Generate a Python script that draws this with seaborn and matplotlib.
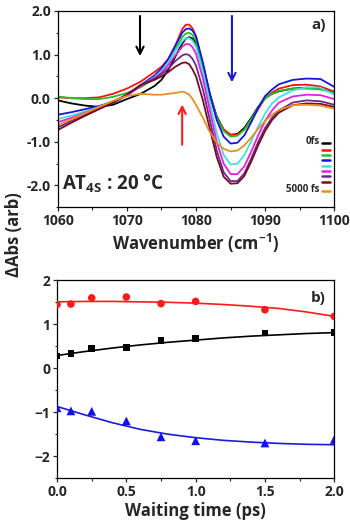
import matplotlib
matplotlib.use('Agg')
import matplotlib.pyplot as plt
import seaborn as sns
import pandas as pd
from matplotlib.ticker import MultipleLocator, FormatStrFormatter

# ---- panel a) : transient spectra ----
wavenumber = [1060, 1062, 1064, 1066, 1068, 1070, 1072, 1074, 1075, 1076, 1077, 1078, 1078.5, 1079, 1079.5, 1080,
              1081, 1082, 1083, 1084, 1085, 1086, 1087, 1088, 1089, 1090, 1091, 1092, 1094, 1096, 1098, 1100]

delays = ['0 fs', '100 fs', '250 fs', '500 fs', '750 fs', '1000 fs', '1500 fs', '2000 fs', '5000 fs']
legend_labels = ['0fs', '', '', '', '', '', '', '', '5000 fs']
spec_colors = ['#000000', '#ff1010', '#22c222', '#1515e0', '#3fe0e8', '#e81ee0', '#6a2a8a', '#7a0a1e', '#e8901e']

spec_0 = [-0.05, -0.12, -0.17, -0.20, -0.15, -0.02, 0.10, 0.28, 0.42, 0.65, 0.95, 1.25, 1.36, 1.40, 1.37, 1.26,
          0.75, 0.10, -0.42, -0.72, -0.84, -0.82, -0.68, -0.45, -0.20, 0.00, 0.10, 0.16, 0.22, 0.24, 0.22, 0.15]
spec_100 = [0.02, 0.00, 0.00, 0.02, 0.10, 0.22, 0.38, 0.60, 0.72, 0.90, 1.20, 1.58, 1.68, 1.69, 1.60, 1.42,
            0.75, 0.05, -0.45, -0.72, -0.84, -0.84, -0.72, -0.50, -0.25, 0.00, 0.13, 0.22, 0.30, 0.31, 0.27, 0.15]
spec_250 = [0.04, 0.00, -0.02, -0.02, 0.03, 0.12, 0.25, 0.45, 0.60, 0.82, 1.10, 1.40, 1.48, 1.50, 1.45, 1.32,
            0.75, 0.08, -0.45, -0.75, -0.88, -0.86, -0.72, -0.48, -0.22, 0.00, 0.10, 0.17, 0.22, 0.22, 0.20, 0.12]
spec_500 = [-0.38, -0.32, -0.25, -0.18, -0.08, 0.08, 0.30, 0.52, 0.68, 0.90, 1.20, 1.50, 1.58, 1.60, 1.55, 1.42,
            0.82, 0.10, -0.50, -0.88, -1.04, -1.02, -0.85, -0.55, -0.22, 0.05, 0.20, 0.32, 0.42, 0.45, 0.44, 0.26]
spec_750 = [-0.48, -0.40, -0.30, -0.20, -0.10, 0.06, 0.28, 0.48, 0.62, 0.82, 1.08, 1.30, 1.37, 1.38, 1.32, 1.18,
            0.60, -0.10, -0.80, -1.30, -1.52, -1.50, -1.30, -0.98, -0.65, -0.35, -0.12, 0.02, 0.18, 0.25, 0.24, 0.08]
spec_1000 = [-0.55, -0.45, -0.33, -0.22, -0.10, 0.06, 0.28, 0.46, 0.58, 0.76, 0.98, 1.18, 1.24, 1.24, 1.17, 1.02,
             0.45, -0.28, -1.00, -1.50, -1.74, -1.74, -1.56, -1.22, -0.85, -0.52, -0.28, -0.10, 0.04, 0.08, 0.07, -0.02]
spec_1500 = [-0.67, -0.52, -0.38, -0.24, -0.10, 0.08, 0.30, 0.45, 0.55, 0.68, 0.85, 0.98, 1.01, 0.99, 0.90, 0.75,
             0.20, -0.50, -1.20, -1.70, -1.90, -1.90, -1.72, -1.38, -1.00, -0.68, -0.45, -0.28, -0.10, -0.05, -0.07, -0.15]
spec_2000 = [-0.73, -0.56, -0.40, -0.25, -0.10, 0.08, 0.30, 0.42, 0.50, 0.60, 0.72, 0.81, 0.82, 0.78, 0.66, 0.50,
             -0.05, -0.70, -1.35, -1.80, -1.96, -1.95, -1.78, -1.45, -1.08, -0.75, -0.50, -0.33, -0.16, -0.12, -0.13, -0.20]
spec_5000 = [-0.62, -0.48, -0.34, -0.20, -0.06, 0.05, 0.10, 0.08, 0.08, 0.10, 0.12, 0.15, 0.13, 0.08, -0.02, -0.15,
             -0.45, -0.78, -1.02, -1.16, -1.22, -1.20, -1.08, -0.90, -0.70, -0.52, -0.38, -0.27, -0.16, -0.15, -0.17, -0.24]

spectra = [spec_0, spec_100, spec_250, spec_500, spec_750, spec_1000, spec_1500, spec_2000, spec_5000]

# arrows (x, y_start, y_end, color)
arrow_x = [1071.9, 1085.2, 1078.0]
arrow_from = [1.95, 1.95, -1.13]
arrow_to = [0.90, 0.30, -0.08]
arrow_colors = ['black', '#1a1acc', '#ff1a1a']

# ---- panel b) : kinetics ----
time_ps = [0.0, 0.1, 0.25, 0.5, 0.75, 1.0, 1.5, 2.0]
peak_red = [1.45, 1.46, 1.60, 1.62, 1.47, 1.52, 1.33, 1.18]
band_black = [0.28, 0.34, 0.45, 0.48, 0.64, 0.67, 0.80, 0.81]
trough_blue = [-0.90, -0.97, -0.98, -1.20, -1.56, -1.65, -1.70, -1.62]

fit_time = [0.0, 0.2, 0.4, 0.6, 0.8, 1.0, 1.2, 1.4, 1.6, 1.8, 2.0]
fit_red = [1.51, 1.52, 1.52, 1.51, 1.50, 1.48, 1.45, 1.41, 1.36, 1.28, 1.18]
fit_black = [0.29, 0.38, 0.46, 0.53, 0.59, 0.64, 0.69, 0.73, 0.76, 0.79, 0.81]
fit_blue = [-0.87, -1.06, -1.24, -1.39, -1.50, -1.58, -1.64, -1.68, -1.71, -1.73, -1.74]

sns.set_style('ticks')
plt.rcParams['font.family'] = ['Open Sans', 'DejaVu Sans']
plt.rcParams['font.weight'] = 'bold'
plt.rcParams['mathtext.fontset'] = 'custom'
plt.rcParams['mathtext.rm'] = 'Open Sans:bold'
plt.rcParams['mathtext.bf'] = 'Open Sans:bold'
plt.rcParams['mathtext.it'] = 'Open Sans:bold'

fig = plt.figure(figsize=(3.5, 5.22), dpi=100)
ax1 = fig.add_axes([0.165, 0.603, 0.790, 0.376])
ax2 = fig.add_axes([0.163, 0.084, 0.792, 0.379])

# long form table for the spectra
rows = []
for name, spec in zip(delays, spectra):
    for w, v in zip(wavenumber, spec):
        rows.append({'wn': w, 'dabs': v, 'delay': name})
df_spec = pd.DataFrame(rows)

sns.lineplot(data=df_spec, x='wn', y='dabs', hue='delay', hue_order=delays,
             palette=spec_colors, lw=1.3, legend=False, ax=ax1)

for x, y0, y1, c in zip(arrow_x, arrow_from, arrow_to, arrow_colors):
    ax1.annotate('', xy=(x, y1), xytext=(x, y0),
                 arrowprops=dict(arrowstyle='->', color=c, lw=1.5, mutation_scale=13))

leg = ax1.legend(ax1.lines[:9], legend_labels, loc='lower right', bbox_to_anchor=(1.0, 0.04),
                 frameon=False, fontsize=4, markerfirst=False, handlelength=1.5,
                 handleheight=0.4, labelspacing=0.05, handletextpad=0.5, borderpad=0.2)
for i in (0, 8):
    leg.get_texts()[i].set_fontsize(7)
for line in leg.get_lines():
    line.set_linewidth(1.8)

ax1.text(0.015, 0.06, r'AT$_{\mathrm{4S}}$ : 20 °C', transform=ax1.transAxes,
         fontsize=13.5, fontweight='bold', ha='left', va='bottom')
ax1.text(0.97, 0.93, 'a)', transform=ax1.transAxes, fontsize=11, fontweight='bold',
         ha='right', va='center')

ax1.set_xlim(1060, 1100)
ax1.set_ylim(-2.5, 2.0)
ax1.xaxis.set_major_locator(MultipleLocator(10))
ax1.xaxis.set_minor_locator(MultipleLocator(5))
ax1.yaxis.set_major_locator(MultipleLocator(1.0))
ax1.yaxis.set_minor_locator(MultipleLocator(0.5))
ax1.yaxis.set_major_formatter(FormatStrFormatter('%.1f'))
ax1.set_xlabel(r'Wavenumber (cm$^{\mathbf{-1}}$)', fontsize=12, fontweight='bold', labelpad=3)
ax1.set_ylabel('')

# panel b
sns.lineplot(x=fit_time, y=fit_red, color='#ff1a1a', lw=1.2, ax=ax2)
sns.lineplot(x=fit_time, y=fit_black, color='black', lw=1.2, ax=ax2)
sns.lineplot(x=fit_time, y=fit_blue, color='#1a1ae0', lw=1.2, ax=ax2)
sns.scatterplot(x=time_ps, y=peak_red, marker='o', color='#ff1a1a', s=30, edgecolor='none', ax=ax2, zorder=3)
sns.scatterplot(x=time_ps, y=band_black, marker='s', color='black', s=24, edgecolor='none', ax=ax2, zorder=3)
sns.scatterplot(x=time_ps, y=trough_blue, marker='^', color='#1010e8', s=40, edgecolor='none', ax=ax2, zorder=3)

ax2.text(0.97, 0.91, 'b)', transform=ax2.transAxes, fontsize=11, fontweight='bold',
         ha='right', va='center')
ax2.set_xlim(0, 2.0)
ax2.set_ylim(-2.5, 2.0)
ax2.xaxis.set_major_locator(MultipleLocator(0.5))
ax2.xaxis.set_minor_locator(MultipleLocator(0.25))
ax2.yaxis.set_major_locator(MultipleLocator(1))
ax2.yaxis.set_minor_locator(MultipleLocator(0.5))
ax2.xaxis.set_major_formatter(FormatStrFormatter('%.1f'))
ax2.set_xlabel('Waiting time (ps)', fontsize=12, fontweight='bold', labelpad=2)
ax2.set_ylabel('')

for ax in (ax1, ax2):
    for s in ax.spines.values():
        s.set_linewidth(0.9)
        s.set_color('black')
    ax.tick_params(which='major', direction='out', length=3, width=0.9, labelsize=10, pad=2)
    ax.tick_params(which='minor', direction='out', length=1.8, width=0.8)
    for lab in ax.get_xticklabels() + ax.get_yticklabels():
        lab.set_fontweight('bold')

fig.text(0.04, 0.55, 'ΔAbs (arb)', rotation=90, fontsize=12, fontweight='bold',
         ha='center', va='center')

fig.savefig('out.png', dpi=100)
